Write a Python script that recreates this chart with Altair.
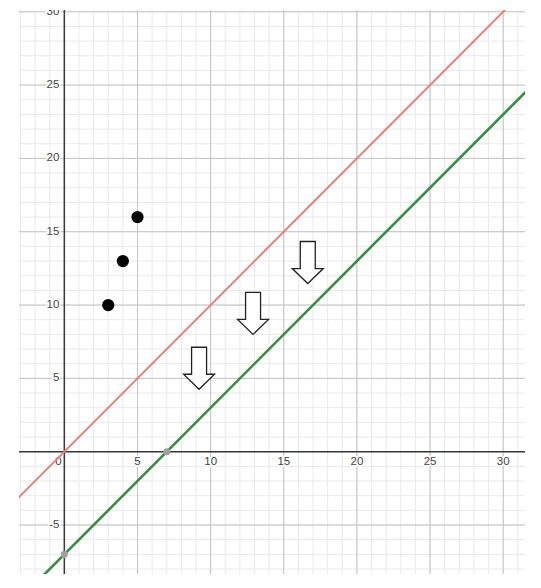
import altair as alt
import pandas as pd

# domain of the view
x_min, x_max = -3.1, 31.49
y_min, y_max = -8.34, 30.12

# grid values
minor_x = list(range(-3, 32))
minor_y = list(range(-8, 31))
major_x = [0, 5, 10, 15, 20, 25, 30]
major_y = [-5, 0, 5, 10, 15, 20, 25, 30]

# tick labels
x_tick_vals = [5, 10, 15, 20, 25, 30]
y_tick_vals = [-5, 5, 10, 15, 20, 25, 30]

# lines
red_x = [-4, 32]
red_y = [-4, 32]
green_x = [-2, 32]
green_y = [-9, 25]

# intercept points on the green line
icpt_x = [7, 0]
icpt_y = [0, -7]

# black points
pts_x = [3, 4, 5]
pts_y = [10, 13, 16]

# arrow centres
arrow_x = [9.21, 12.9, 16.64]
arrow_y = [5.69, 9.43, 12.9]

xs = alt.Scale(domain=[x_min, x_max], nice=False, zero=False)
ys = alt.Scale(domain=[y_min, y_max], nice=False, zero=False)

def X(f="x"):
    return alt.X(f"{f}:Q", scale=xs, axis=None)

def Y(f="y"):
    return alt.Y(f"{f}:Q", scale=ys, axis=None)

vminor = alt.Chart(pd.DataFrame({"x": minor_x})).mark_rule(color="#e9e9e9", strokeWidth=1, clip=True).encode(x=X())
hminor = alt.Chart(pd.DataFrame({"y": minor_y})).mark_rule(color="#e9e9e9", strokeWidth=1, clip=True).encode(y=Y())
vmajor = alt.Chart(pd.DataFrame({"x": major_x})).mark_rule(color="#c4c4c4", strokeWidth=1, clip=True).encode(x=X())
hmajor = alt.Chart(pd.DataFrame({"y": major_y})).mark_rule(color="#c4c4c4", strokeWidth=1, clip=True).encode(y=Y())
vaxis = alt.Chart(pd.DataFrame({"x": [0]})).mark_rule(color="#3a3a3a", strokeWidth=1.5, clip=True).encode(x=X())
haxis = alt.Chart(pd.DataFrame({"y": [0]})).mark_rule(color="#3a3a3a", strokeWidth=1.5, clip=True).encode(y=Y())

font = "Liberation Sans"
xl_df = pd.DataFrame({"x": x_tick_vals, "y": [0] * len(x_tick_vals), "t": [str(v) for v in x_tick_vals]})
yl_df = pd.DataFrame({"x": [0] * len(y_tick_vals), "y": y_tick_vals, "t": [str(v) for v in y_tick_vals]})
zero_df = pd.DataFrame({"x": [0], "y": [0], "t": ["0"]})

def labels(df, halo, **kw):
    props = dict(font=font, fontSize=11.5, clip=True, baseline="middle", **kw)
    if halo:
        props.update(color="white", stroke="white", strokeWidth=3)
    else:
        props.update(color="#444444")
    return alt.Chart(df).mark_text(**props).encode(x=X(), y=Y(), text="t:N")

label_layers = []
for halo in (True, False):
    label_layers.append(labels(xl_df, halo, align="center", dy=10))
    label_layers.append(labels(yl_df, halo, align="right", dx=-5))
    label_layers.append(labels(zero_df, halo, align="center", dx=-6, dy=10))

red = alt.Chart(pd.DataFrame({"x": red_x, "y": red_y})).mark_line(
    color="#e0837e", strokeWidth=2, clip=True).encode(x=X(), y=Y())
green = alt.Chart(pd.DataFrame({"x": green_x, "y": green_y})).mark_line(
    color="#388c46", strokeWidth=2.6, clip=True).encode(x=X(), y=Y())

icpt = alt.Chart(pd.DataFrame({"x": icpt_x, "y": icpt_y})).mark_circle(
    color="#a0a0a0", size=50, opacity=1).encode(x=X(), y=Y())
pts = alt.Chart(pd.DataFrame({"x": pts_x, "y": pts_y})).mark_circle(
    color="black", size=150, opacity=1).encode(x=X(), y=Y())

arrow_path = "M -0.357 -1 L 0.357 -1 L 0.357 0.286 L 0.738 0.286 L 0 1 L -0.738 0.286 L -0.357 0.286 Z"
arrows = alt.Chart(pd.DataFrame({"x": arrow_x, "y": arrow_y})).mark_point(
    shape=arrow_path, size=1764, filled=True, fill="white", stroke="#222222",
    strokeWidth=1.3, opacity=1, fillOpacity=1, strokeOpacity=1).encode(x=X(), y=Y())

chart = alt.layer(
    vminor, hminor, vmajor, hmajor, vaxis, haxis, *label_layers,
    red, green, icpt, pts, arrows
).properties(
    width=506, height=564,
    padding={"left": 11, "top": 2, "right": 5, "bottom": 5},
    background="white",
).configure_view(stroke=None)

chart.save("out.html", embed_options={"renderer": "svg", "actions": False})
